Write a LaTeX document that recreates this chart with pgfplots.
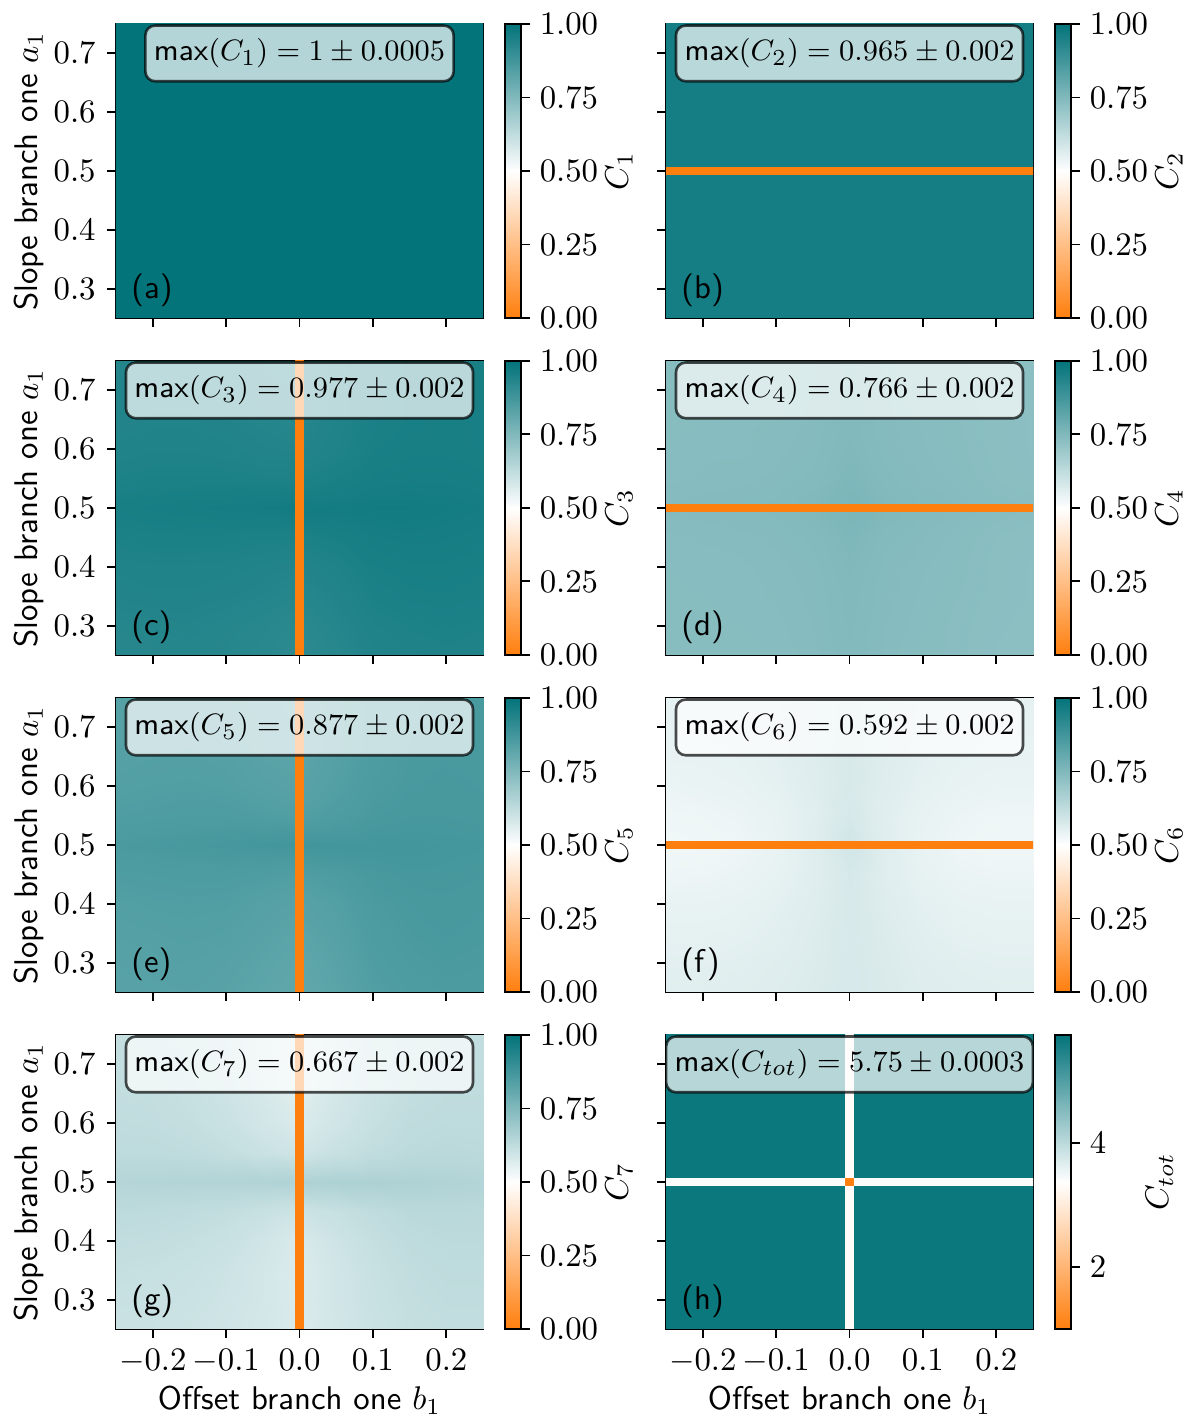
\documentclass[border=0pt]{standalone}
\usepackage{pgfplots}
\pgfplotsset{compat=1.18}
\usepgfplotslibrary{patchplots}
\renewcommand{\familydefault}{\sfdefault}
\pgfplotsset{colormap={ow}{rgb255=(255,127,14) rgb255=(255,255,255) rgb255=(3,115,122)}}
\pgfplotsset{
 panel/.style={
   scale only axis, width=111.94pt, height=89.67pt,
   anchor=south west,
   xmin=-0.25, xmax=0.25, ymin=0.25, ymax=0.75,
   xtick={-0.2,-0.1,0,0.1,0.2}, ytick={0.3,0.4,0.5,0.6,0.7},
   tick align=outside, tick pos=left,
   major tick length=2.7pt,
   tick style={black, line width=0.6pt},
   axis line style={line width=0.6pt},
   xticklabel style={/pgf/number format/.cd, fixed, fixed zerofill, precision=1},
   yticklabel style={/pgf/number format/.cd, fixed, fixed zerofill, precision=1},
   colormap name=ow,
   colorbar,
   colorbar shift/.style={xshift=6.7pt},
   point meta min=0, point meta max=1,
   colorbar style={
     at={(parent axis.north east)}, anchor=north west,
     width=4.9pt,
     ytick={0,0.25,0.5,0.75,1},
     ytick pos=right, yticklabel pos=right,
     tick align=outside, major tick length=2.7pt,
     tick style={black, line width=0.6pt},
     axis line style={line width=0.6pt},
     yticklabel style={xshift=-0.5pt, /pgf/number format/.cd, fixed, fixed zerofill, precision=2},
     every axis y label/.style={at={(rel axis cs:7.1,0.5)}, rotate=90, anchor=center},
   },
 },
 nox/.style={xticklabels={}},
 noy/.style={yticklabels={}},
 xl/.style={xlabel={Offset branch one $b_1$}, every axis x label/.style={at={(rel axis cs:0.5,-0.243)}, anchor=center}},
 yl/.style={ylabel={Slope branch one $a_1$}, every axis y label/.style={at={(rel axis cs:-0.236,0.5)}, rotate=90, anchor=center}},
}
\tikzset{mbox/.style={fill=white, fill opacity=0.7, draw=black, draw opacity=0.7, text opacity=1, rounded corners=3pt, inner xsep=2.6pt, inner ysep=4pt, line width=0.8pt, font=\fontsize{9.3pt}{11pt}\selectfont}}
\begin{document}
\begin{tikzpicture}
% ---------- (a)
\begin{axis}[panel, nox, yl, at={(35.38pt,334.89pt)}, colorbar style={ylabel={$C_1$}}]
\addplot[patch, patch type=rectangle, shader=flat, point meta=explicit] table[meta=c] {
x y c
-0.25 0.25 0.998
0.25 0.25 0.998
0.25 0.75 0.998
-0.25 0.75 0.998
};
\node[mbox] at (rel axis cs:0.5,0.9) {max$(C_1) = 1 \pm 0.0005$};
\node[anchor=base west, inner sep=0pt] at (rel axis cs:0.04,0.065) {(a)};
\end{axis}
% ---------- (b)
\begin{axis}[panel, nox, noy, at={(203.13pt,334.89pt)}, colorbar style={ylabel={$C_2$}}]
\addplot[patch, patch type=rectangle, shader=flat, point meta=explicit] table[meta=c] {
x y c
-0.25 0.25 0.964
0.25 0.25 0.964
0.25 0.75 0.964
-0.25 0.75 0.964
-0.25 0.4949 0
0.25 0.4949 0
0.25 0.5051 0
-0.25 0.5051 0
};
\node[mbox] at (rel axis cs:0.5,0.9) {max$(C_2) = 0.965 \pm 0.002$};
\node[anchor=base west, inner sep=0pt] at (rel axis cs:0.04,0.065) {(b)};
\end{axis}
% ---------- (c)
\begin{axis}[panel, nox, yl, at={(35.38pt,232.11pt)}, colorbar style={ylabel={$C_3$}}]
\addplot[surf, shader=interp, mesh/cols=11, mesh/rows=11, point meta=explicit] table[meta=c, row sep=\\] {
x y c\\
-0.25 0.25 0.930\\ -0.2 0.25 0.930\\ -0.15 0.25 0.932\\ -0.1 0.25 0.930\\ -0.05 0.25 0.925\\ 0 0.25 0.918\\ 0.05 0.25 0.928\\ 0.1 0.25 0.940\\ 0.15 0.25 0.944\\ 0.2 0.25 0.946\\ 0.25 0.25 0.944\\
-0.25 0.3 0.932\\ -0.2 0.3 0.934\\ -0.15 0.3 0.935\\ -0.1 0.3 0.932\\ -0.05 0.3 0.928\\ 0 0.3 0.922\\ 0.05 0.3 0.932\\ 0.1 0.3 0.944\\ 0.15 0.3 0.948\\ 0.2 0.3 0.950\\ 0.25 0.3 0.948\\
-0.25 0.35 0.938\\ -0.2 0.35 0.940\\ -0.15 0.35 0.940\\ -0.1 0.35 0.938\\ -0.05 0.35 0.935\\ 0 0.35 0.930\\ 0.05 0.35 0.938\\ 0.1 0.35 0.950\\ 0.15 0.35 0.954\\ 0.2 0.35 0.955\\ 0.25 0.35 0.953\\
-0.25 0.4 0.942\\ -0.2 0.4 0.944\\ -0.15 0.4 0.944\\ -0.1 0.4 0.943\\ -0.05 0.4 0.940\\ 0 0.4 0.937\\ 0.05 0.4 0.944\\ 0.1 0.4 0.955\\ 0.15 0.4 0.958\\ 0.2 0.4 0.958\\ 0.25 0.4 0.956\\
-0.25 0.45 0.950\\ -0.2 0.45 0.952\\ -0.15 0.45 0.952\\ -0.1 0.45 0.952\\ -0.05 0.45 0.950\\ 0 0.45 0.950\\ 0.05 0.45 0.955\\ 0.1 0.45 0.962\\ 0.15 0.45 0.964\\ 0.2 0.45 0.963\\ 0.25 0.45 0.960\\
-0.25 0.5 0.958\\ -0.2 0.5 0.960\\ -0.15 0.5 0.962\\ -0.1 0.5 0.964\\ -0.05 0.5 0.966\\ 0 0.5 0.970\\ 0.05 0.5 0.968\\ 0.1 0.5 0.970\\ 0.15 0.5 0.970\\ 0.2 0.5 0.968\\ 0.25 0.5 0.965\\
-0.25 0.55 0.948\\ -0.2 0.55 0.950\\ -0.15 0.55 0.950\\ -0.1 0.55 0.950\\ -0.05 0.55 0.948\\ 0 0.55 0.948\\ 0.05 0.55 0.954\\ 0.1 0.55 0.960\\ 0.15 0.55 0.962\\ 0.2 0.55 0.962\\ 0.25 0.55 0.960\\
-0.25 0.6 0.942\\ -0.2 0.6 0.944\\ -0.15 0.6 0.944\\ -0.1 0.6 0.942\\ -0.05 0.6 0.938\\ 0 0.6 0.936\\ 0.05 0.6 0.944\\ 0.1 0.6 0.955\\ 0.15 0.6 0.958\\ 0.2 0.6 0.958\\ 0.25 0.6 0.956\\
-0.25 0.65 0.938\\ -0.2 0.65 0.940\\ -0.15 0.65 0.940\\ -0.1 0.65 0.938\\ -0.05 0.65 0.934\\ 0 0.65 0.932\\ 0.05 0.65 0.942\\ 0.1 0.65 0.952\\ 0.15 0.65 0.956\\ 0.2 0.65 0.958\\ 0.25 0.65 0.956\\
-0.25 0.7 0.936\\ -0.2 0.7 0.938\\ -0.15 0.7 0.938\\ -0.1 0.7 0.936\\ -0.05 0.7 0.932\\ 0 0.7 0.930\\ 0.05 0.7 0.942\\ 0.1 0.7 0.952\\ 0.15 0.7 0.956\\ 0.2 0.7 0.958\\ 0.25 0.7 0.958\\
-0.25 0.75 0.935\\ -0.2 0.75 0.937\\ -0.15 0.75 0.937\\ -0.1 0.75 0.935\\ -0.05 0.75 0.930\\ 0 0.75 0.930\\ 0.05 0.75 0.942\\ 0.1 0.75 0.952\\ 0.15 0.75 0.956\\ 0.2 0.75 0.958\\ 0.25 0.75 0.958\\
};
\addplot[patch, patch type=rectangle, shader=flat, point meta=explicit] table[meta=c] {
x y c
-0.005 0.25 0
0.005 0.25 0
0.005 0.75 0
-0.005 0.75 0
};
\node[mbox] at (rel axis cs:0.5,0.9) {max$(C_3) = 0.977 \pm 0.002$};
\node[anchor=base west, inner sep=0pt] at (rel axis cs:0.04,0.065) {(c)};
\end{axis}
% ---------- (d)
\begin{axis}[panel, nox, noy, at={(203.13pt,232.11pt)}, colorbar style={ylabel={$C_4$}}]
\addplot[surf, shader=interp, mesh/cols=11, mesh/rows=11, point meta=explicit] table[meta=c, row sep=\\] {
x y c\\
-0.25 0.25 0.735\\ -0.2 0.25 0.736\\ -0.15 0.25 0.736\\ -0.1 0.25 0.737\\ -0.05 0.25 0.740\\ 0 0.25 0.748\\ 0.05 0.25 0.740\\ 0.1 0.25 0.736\\ 0.15 0.25 0.734\\ 0.2 0.25 0.730\\ 0.25 0.25 0.728\\
-0.25 0.3 0.736\\ -0.2 0.3 0.737\\ -0.15 0.3 0.737\\ -0.1 0.3 0.738\\ -0.05 0.3 0.741\\ 0 0.3 0.749\\ 0.05 0.3 0.741\\ 0.1 0.3 0.737\\ 0.15 0.3 0.734\\ 0.2 0.3 0.731\\ 0.25 0.3 0.729\\
-0.25 0.35 0.736\\ -0.2 0.35 0.737\\ -0.15 0.35 0.738\\ -0.1 0.35 0.739\\ -0.05 0.35 0.742\\ 0 0.35 0.750\\ 0.05 0.35 0.742\\ 0.1 0.35 0.738\\ 0.15 0.35 0.735\\ 0.2 0.35 0.732\\ 0.25 0.35 0.730\\
-0.25 0.4 0.737\\ -0.2 0.4 0.738\\ -0.15 0.4 0.738\\ -0.1 0.4 0.740\\ -0.05 0.4 0.743\\ 0 0.4 0.752\\ 0.05 0.4 0.743\\ 0.1 0.4 0.739\\ 0.15 0.4 0.736\\ 0.2 0.4 0.732\\ 0.25 0.4 0.730\\
-0.25 0.45 0.738\\ -0.2 0.45 0.739\\ -0.15 0.45 0.740\\ -0.1 0.45 0.742\\ -0.05 0.45 0.746\\ 0 0.45 0.756\\ 0.05 0.45 0.746\\ 0.1 0.45 0.741\\ 0.15 0.45 0.737\\ 0.2 0.45 0.733\\ 0.25 0.45 0.731\\
-0.25 0.5 0.742\\ -0.2 0.5 0.743\\ -0.15 0.5 0.744\\ -0.1 0.5 0.746\\ -0.05 0.5 0.752\\ 0 0.5 0.764\\ 0.05 0.5 0.752\\ 0.1 0.5 0.745\\ 0.15 0.5 0.741\\ 0.2 0.5 0.737\\ 0.25 0.5 0.735\\
-0.25 0.55 0.738\\ -0.2 0.55 0.739\\ -0.15 0.55 0.740\\ -0.1 0.55 0.742\\ -0.05 0.55 0.746\\ 0 0.55 0.756\\ 0.05 0.55 0.746\\ 0.1 0.55 0.741\\ 0.15 0.55 0.737\\ 0.2 0.55 0.733\\ 0.25 0.55 0.731\\
-0.25 0.6 0.737\\ -0.2 0.6 0.738\\ -0.15 0.6 0.738\\ -0.1 0.6 0.740\\ -0.05 0.6 0.743\\ 0 0.6 0.752\\ 0.05 0.6 0.743\\ 0.1 0.6 0.739\\ 0.15 0.6 0.736\\ 0.2 0.6 0.732\\ 0.25 0.6 0.730\\
-0.25 0.65 0.736\\ -0.2 0.65 0.737\\ -0.15 0.65 0.738\\ -0.1 0.65 0.739\\ -0.05 0.65 0.742\\ 0 0.65 0.750\\ 0.05 0.65 0.742\\ 0.1 0.65 0.738\\ 0.15 0.65 0.735\\ 0.2 0.65 0.732\\ 0.25 0.65 0.730\\
-0.25 0.7 0.736\\ -0.2 0.7 0.737\\ -0.15 0.7 0.737\\ -0.1 0.7 0.738\\ -0.05 0.7 0.741\\ 0 0.7 0.749\\ 0.05 0.7 0.741\\ 0.1 0.7 0.737\\ 0.15 0.7 0.734\\ 0.2 0.7 0.731\\ 0.25 0.7 0.729\\
-0.25 0.75 0.735\\ -0.2 0.75 0.736\\ -0.15 0.75 0.736\\ -0.1 0.75 0.737\\ -0.05 0.75 0.740\\ 0 0.75 0.748\\ 0.05 0.75 0.740\\ 0.1 0.75 0.736\\ 0.15 0.75 0.734\\ 0.2 0.75 0.730\\ 0.25 0.75 0.728\\
};
\addplot[patch, patch type=rectangle, shader=flat, point meta=explicit] table[meta=c] {
x y c
-0.25 0.4949 0
0.25 0.4949 0
0.25 0.5051 0
-0.25 0.5051 0
};
\node[mbox] at (rel axis cs:0.5,0.9) {max$(C_4) = 0.766 \pm 0.002$};
\node[anchor=base west, inner sep=0pt] at (rel axis cs:0.04,0.065) {(d)};
\end{axis}
% ---------- (e)
\begin{axis}[panel, nox, yl, at={(35.38pt,129.32pt)}, colorbar style={ylabel={$C_5$}}]
\addplot[surf, shader=interp, mesh/cols=11, mesh/rows=11, point meta=explicit] table[meta=c, row sep=\\] {
x y c\\
-0.25 0.25 0.830\\ -0.2 0.25 0.832\\ -0.15 0.25 0.834\\ -0.1 0.25 0.830\\ -0.05 0.25 0.822\\ 0 0.25 0.815\\ 0.05 0.25 0.826\\ 0.1 0.25 0.845\\ 0.15 0.25 0.852\\ 0.2 0.25 0.856\\ 0.25 0.25 0.855\\
-0.25 0.3 0.834\\ -0.2 0.3 0.836\\ -0.15 0.3 0.838\\ -0.1 0.3 0.834\\ -0.05 0.3 0.826\\ 0 0.3 0.818\\ 0.05 0.3 0.830\\ 0.1 0.3 0.849\\ 0.15 0.3 0.856\\ 0.2 0.3 0.860\\ 0.25 0.3 0.858\\
-0.25 0.35 0.838\\ -0.2 0.35 0.840\\ -0.15 0.35 0.842\\ -0.1 0.35 0.840\\ -0.05 0.35 0.832\\ 0 0.35 0.824\\ 0.05 0.35 0.836\\ 0.1 0.35 0.853\\ 0.15 0.35 0.860\\ 0.2 0.35 0.863\\ 0.25 0.35 0.861\\
-0.25 0.4 0.842\\ -0.2 0.4 0.845\\ -0.15 0.4 0.846\\ -0.1 0.4 0.845\\ -0.05 0.4 0.838\\ 0 0.4 0.832\\ 0.05 0.4 0.842\\ 0.1 0.4 0.857\\ 0.15 0.4 0.863\\ 0.2 0.4 0.865\\ 0.25 0.4 0.863\\
-0.25 0.45 0.850\\ -0.2 0.45 0.852\\ -0.15 0.45 0.854\\ -0.1 0.45 0.854\\ -0.05 0.45 0.850\\ 0 0.45 0.846\\ 0.05 0.45 0.854\\ 0.1 0.45 0.864\\ 0.15 0.45 0.868\\ 0.2 0.45 0.868\\ 0.25 0.45 0.866\\
-0.25 0.5 0.860\\ -0.2 0.5 0.862\\ -0.15 0.5 0.865\\ -0.1 0.5 0.868\\ -0.05 0.5 0.872\\ 0 0.5 0.876\\ 0.05 0.5 0.874\\ 0.1 0.5 0.874\\ 0.15 0.5 0.874\\ 0.2 0.5 0.872\\ 0.25 0.5 0.870\\
-0.25 0.55 0.848\\ -0.2 0.55 0.850\\ -0.15 0.55 0.852\\ -0.1 0.55 0.852\\ -0.05 0.55 0.848\\ 0 0.55 0.844\\ 0.05 0.55 0.852\\ 0.1 0.55 0.862\\ 0.15 0.55 0.866\\ 0.2 0.55 0.866\\ 0.25 0.55 0.864\\
-0.25 0.6 0.842\\ -0.2 0.6 0.844\\ -0.15 0.6 0.845\\ -0.1 0.6 0.843\\ -0.05 0.6 0.836\\ 0 0.6 0.830\\ 0.05 0.6 0.842\\ 0.1 0.6 0.856\\ 0.15 0.6 0.862\\ 0.2 0.6 0.864\\ 0.25 0.6 0.862\\
-0.25 0.65 0.838\\ -0.2 0.65 0.840\\ -0.15 0.65 0.841\\ -0.1 0.65 0.838\\ -0.05 0.65 0.830\\ 0 0.65 0.824\\ 0.05 0.65 0.838\\ 0.1 0.65 0.853\\ 0.15 0.65 0.860\\ 0.2 0.65 0.862\\ 0.25 0.65 0.862\\
-0.25 0.7 0.836\\ -0.2 0.7 0.838\\ -0.15 0.7 0.839\\ -0.1 0.7 0.836\\ -0.05 0.7 0.828\\ 0 0.7 0.822\\ 0.05 0.7 0.838\\ 0.1 0.7 0.852\\ 0.15 0.7 0.858\\ 0.2 0.7 0.862\\ 0.25 0.7 0.862\\
-0.25 0.75 0.835\\ -0.2 0.75 0.837\\ -0.15 0.75 0.838\\ -0.1 0.75 0.835\\ -0.05 0.75 0.826\\ 0 0.75 0.820\\ 0.05 0.75 0.838\\ 0.1 0.75 0.852\\ 0.15 0.75 0.858\\ 0.2 0.75 0.862\\ 0.25 0.75 0.862\\
};
\addplot[patch, patch type=rectangle, shader=flat, point meta=explicit] table[meta=c] {
x y c
-0.005 0.25 0
0.005 0.25 0
0.005 0.75 0
-0.005 0.75 0
};
\node[mbox] at (rel axis cs:0.5,0.9) {max$(C_5) = 0.877 \pm 0.002$};
\node[anchor=base west, inner sep=0pt] at (rel axis cs:0.04,0.065) {(e)};
\end{axis}
% ---------- (f)
\begin{axis}[panel, nox, noy, at={(203.13pt,129.32pt)}, colorbar style={ylabel={$C_6$}}]
\addplot[surf, shader=interp, mesh/cols=11, mesh/rows=11, point meta=explicit] table[meta=c, row sep=\\] {
x y c\\
-0.25 0.25 0.560\\ -0.2 0.25 0.560\\ -0.15 0.25 0.562\\ -0.1 0.25 0.566\\ -0.05 0.25 0.572\\ 0 0.25 0.580\\ 0.05 0.25 0.574\\ 0.1 0.25 0.566\\ 0.15 0.25 0.562\\ 0.2 0.25 0.560\\ 0.25 0.25 0.560\\
-0.25 0.3 0.556\\ -0.2 0.3 0.556\\ -0.15 0.3 0.558\\ -0.1 0.3 0.563\\ -0.05 0.3 0.570\\ 0 0.3 0.580\\ 0.05 0.3 0.572\\ 0.1 0.3 0.563\\ 0.15 0.3 0.558\\ 0.2 0.3 0.556\\ 0.25 0.3 0.556\\
-0.25 0.35 0.550\\ -0.2 0.35 0.550\\ -0.15 0.35 0.552\\ -0.1 0.35 0.558\\ -0.05 0.35 0.568\\ 0 0.35 0.580\\ 0.05 0.35 0.570\\ 0.1 0.35 0.558\\ 0.15 0.35 0.552\\ 0.2 0.35 0.550\\ 0.25 0.35 0.550\\
-0.25 0.4 0.545\\ -0.2 0.4 0.545\\ -0.15 0.4 0.548\\ -0.1 0.4 0.554\\ -0.05 0.4 0.565\\ 0 0.4 0.580\\ 0.05 0.4 0.566\\ 0.1 0.4 0.554\\ 0.15 0.4 0.548\\ 0.2 0.4 0.546\\ 0.25 0.4 0.546\\
-0.25 0.45 0.535\\ -0.2 0.45 0.536\\ -0.15 0.45 0.540\\ -0.1 0.45 0.548\\ -0.05 0.45 0.562\\ 0 0.45 0.582\\ 0.05 0.45 0.562\\ 0.1 0.45 0.548\\ 0.15 0.45 0.540\\ 0.2 0.45 0.537\\ 0.25 0.45 0.537\\
-0.25 0.5 0.528\\ -0.2 0.5 0.530\\ -0.15 0.5 0.534\\ -0.1 0.5 0.544\\ -0.05 0.5 0.562\\ 0 0.5 0.592\\ 0.05 0.5 0.562\\ 0.1 0.5 0.544\\ 0.15 0.5 0.534\\ 0.2 0.5 0.530\\ 0.25 0.5 0.530\\
-0.25 0.55 0.532\\ -0.2 0.55 0.534\\ -0.15 0.55 0.538\\ -0.1 0.55 0.546\\ -0.05 0.55 0.560\\ 0 0.55 0.582\\ 0.05 0.55 0.560\\ 0.1 0.55 0.546\\ 0.15 0.55 0.538\\ 0.2 0.55 0.534\\ 0.25 0.55 0.534\\
-0.25 0.6 0.540\\ -0.2 0.6 0.542\\ -0.15 0.6 0.545\\ -0.1 0.6 0.552\\ -0.05 0.6 0.564\\ 0 0.6 0.578\\ 0.05 0.6 0.564\\ 0.1 0.6 0.552\\ 0.15 0.6 0.545\\ 0.2 0.6 0.542\\ 0.25 0.6 0.542\\
-0.25 0.65 0.545\\ -0.2 0.65 0.546\\ -0.15 0.65 0.549\\ -0.1 0.65 0.555\\ -0.05 0.65 0.566\\ 0 0.65 0.578\\ 0.05 0.65 0.566\\ 0.1 0.65 0.555\\ 0.15 0.65 0.549\\ 0.2 0.65 0.546\\ 0.25 0.65 0.546\\
-0.25 0.7 0.548\\ -0.2 0.7 0.549\\ -0.15 0.7 0.552\\ -0.1 0.7 0.557\\ -0.05 0.7 0.566\\ 0 0.7 0.576\\ 0.05 0.7 0.566\\ 0.1 0.7 0.557\\ 0.15 0.7 0.552\\ 0.2 0.7 0.549\\ 0.25 0.7 0.549\\
-0.25 0.75 0.550\\ -0.2 0.75 0.551\\ -0.15 0.75 0.553\\ -0.1 0.75 0.558\\ -0.05 0.75 0.566\\ 0 0.75 0.575\\ 0.05 0.75 0.566\\ 0.1 0.75 0.558\\ 0.15 0.75 0.553\\ 0.2 0.75 0.551\\ 0.25 0.75 0.551\\
};
\addplot[patch, patch type=rectangle, shader=flat, point meta=explicit] table[meta=c] {
x y c
-0.25 0.4949 0
0.25 0.4949 0
0.25 0.5051 0
-0.25 0.5051 0
};
\node[mbox] at (rel axis cs:0.5,0.9) {max$(C_6) = 0.592 \pm 0.002$};
\node[anchor=base west, inner sep=0pt] at (rel axis cs:0.04,0.065) {(f)};
\end{axis}
% ---------- (g)
\begin{axis}[panel, xl, yl, at={(35.38pt,26.54pt)}, colorbar style={ylabel={$C_7$}}]
\addplot[surf, shader=interp, mesh/cols=11, mesh/rows=11, point meta=explicit] table[meta=c, row sep=\\] {
x y c\\
-0.25 0.25 0.605\\ -0.2 0.25 0.605\\ -0.15 0.25 0.600\\ -0.1 0.25 0.595\\ -0.05 0.25 0.585\\ 0 0.25 0.575\\ 0.05 0.25 0.590\\ 0.1 0.25 0.605\\ 0.15 0.25 0.615\\ 0.2 0.25 0.620\\ 0.25 0.25 0.620\\
-0.25 0.3 0.610\\ -0.2 0.3 0.608\\ -0.15 0.3 0.604\\ -0.1 0.3 0.598\\ -0.05 0.3 0.588\\ 0 0.3 0.572\\ 0.05 0.3 0.592\\ 0.1 0.3 0.608\\ 0.15 0.3 0.618\\ 0.2 0.3 0.624\\ 0.25 0.3 0.624\\
-0.25 0.35 0.615\\ -0.2 0.35 0.612\\ -0.15 0.35 0.608\\ -0.1 0.35 0.600\\ -0.05 0.35 0.588\\ 0 0.35 0.570\\ 0.05 0.35 0.592\\ 0.1 0.35 0.610\\ 0.15 0.35 0.622\\ 0.2 0.35 0.628\\ 0.25 0.35 0.628\\
-0.25 0.4 0.622\\ -0.2 0.4 0.620\\ -0.15 0.4 0.615\\ -0.1 0.4 0.608\\ -0.05 0.4 0.594\\ 0 0.4 0.575\\ 0.05 0.4 0.598\\ 0.1 0.4 0.615\\ 0.15 0.4 0.628\\ 0.2 0.4 0.632\\ 0.25 0.4 0.632\\
-0.25 0.45 0.632\\ -0.2 0.45 0.630\\ -0.15 0.45 0.626\\ -0.1 0.45 0.620\\ -0.05 0.45 0.610\\ 0 0.45 0.600\\ 0.05 0.45 0.612\\ 0.1 0.45 0.626\\ 0.15 0.45 0.636\\ 0.2 0.45 0.638\\ 0.25 0.45 0.636\\
-0.25 0.5 0.648\\ -0.2 0.5 0.650\\ -0.15 0.5 0.652\\ -0.1 0.5 0.654\\ -0.05 0.5 0.656\\ 0 0.5 0.660\\ 0.05 0.5 0.662\\ 0.1 0.5 0.662\\ 0.15 0.5 0.660\\ 0.2 0.5 0.656\\ 0.25 0.5 0.652\\
-0.25 0.55 0.630\\ -0.2 0.55 0.630\\ -0.15 0.55 0.626\\ -0.1 0.55 0.618\\ -0.05 0.55 0.606\\ 0 0.55 0.596\\ 0.05 0.55 0.610\\ 0.1 0.55 0.624\\ 0.15 0.55 0.634\\ 0.2 0.55 0.636\\ 0.25 0.55 0.634\\
-0.25 0.6 0.624\\ -0.2 0.6 0.622\\ -0.15 0.6 0.616\\ -0.1 0.6 0.606\\ -0.05 0.6 0.590\\ 0 0.6 0.572\\ 0.05 0.6 0.594\\ 0.1 0.6 0.612\\ 0.15 0.6 0.626\\ 0.2 0.6 0.630\\ 0.25 0.6 0.630\\
-0.25 0.65 0.620\\ -0.2 0.65 0.618\\ -0.15 0.65 0.612\\ -0.1 0.65 0.600\\ -0.05 0.65 0.582\\ 0 0.65 0.562\\ 0.05 0.65 0.586\\ 0.1 0.65 0.606\\ 0.15 0.65 0.620\\ 0.2 0.65 0.626\\ 0.25 0.65 0.626\\
-0.25 0.7 0.618\\ -0.2 0.7 0.615\\ -0.15 0.7 0.608\\ -0.1 0.7 0.596\\ -0.05 0.7 0.578\\ 0 0.7 0.558\\ 0.05 0.7 0.582\\ 0.1 0.7 0.602\\ 0.15 0.7 0.616\\ 0.2 0.7 0.622\\ 0.25 0.7 0.622\\
-0.25 0.75 0.616\\ -0.2 0.75 0.612\\ -0.15 0.75 0.606\\ -0.1 0.75 0.594\\ -0.05 0.75 0.576\\ 0 0.75 0.556\\ 0.05 0.75 0.580\\ 0.1 0.75 0.600\\ 0.15 0.75 0.614\\ 0.2 0.75 0.620\\ 0.25 0.75 0.620\\
};
\addplot[patch, patch type=rectangle, shader=flat, point meta=explicit] table[meta=c] {
x y c
-0.005 0.25 0
0.005 0.25 0
0.005 0.75 0
-0.005 0.75 0
};
\node[mbox] at (rel axis cs:0.5,0.9) {max$(C_7) = 0.667 \pm 0.002$};
\node[anchor=base west, inner sep=0pt] at (rel axis cs:0.04,0.065) {(g)};
\end{axis}
% ---------- (h)
\begin{axis}[panel, xl, noy, at={(203.13pt,26.54pt)}, point meta min=0.99, point meta max=5.75,
  colorbar style={ylabel={$C_{tot}$}, ytick={2,4}, yticklabels={$2$,$4$},
    every axis y label/.style={at={(rel axis cs:6.5,0.5)}, rotate=90, anchor=center}}]
\addplot[patch, patch type=rectangle, shader=flat, point meta=explicit] table[meta=c] {
x y c
-0.25 0.25 5.675
0.25 0.25 5.675
0.25 0.75 5.675
-0.25 0.75 5.675
-0.25 0.4949 3.42
0.25 0.4949 3.42
0.25 0.5051 3.42
-0.25 0.5051 3.42
-0.005 0.25 3.30
0.005 0.25 3.30
0.005 0.75 3.30
-0.005 0.75 3.30
-0.005 0.4949 1.0
0.005 0.4949 1.0
0.005 0.5051 1.0
-0.005 0.5051 1.0
};
\node[mbox] at (rel axis cs:0.5,0.9) {max$(C_{tot}) = 5.75 \pm 0.0003$};
\node[anchor=base west, inner sep=0pt] at (rel axis cs:0.04,0.065) {(h)};
\end{axis}
\pgfresetboundingbox
\path[use as bounding box] (0,0) rectangle (363.26pt,431.88pt);
\end{tikzpicture}
\end{document}
